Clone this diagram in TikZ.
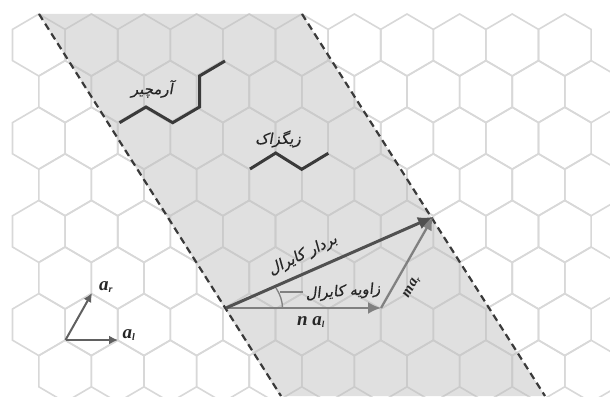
\documentclass[tikz,border=0pt]{standalone}
\usepackage{fontspec}
\usetikzlibrary{arrows.meta}
\setmainfont{Liberation Serif}
\TeXXeTstate=1
\newfontfamily\fa[Script=Arabic,FakeSlant=0.18,FakeBold=0.4]{DejaVu Sans}
\definecolor{hexline}{HTML}{D8D8D8}
\definecolor{bandfill}{HTML}{E0E0E0}
\definecolor{bandline}{HTML}{CBCBCB}
\definecolor{darkline}{HTML}{3A3A3A}
\definecolor{chiral}{HTML}{505050}
\definecolor{component}{HTML}{808080}
\tikzset{
  hexcell/.style={line width=1.6pt,line join=miter},
  bandedge/.style={draw=darkline,line width=2.2pt,dash pattern=on 7pt off 4.5pt},
  tube/.style={draw=darkline,line width=3pt,line join=miter},
  chiralvec/.style={draw=chiral,line width=3pt,-{Latex[length=15pt,width=13pt]}},
  compvec/.style={draw=component,line width=2.3pt,-{Latex[length=13pt,width=12pt]}},
  basisvec/.style={draw=component!75!black,line width=2pt,-{Latex[length=9pt,width=9pt]}},
  thinmark/.style={draw=component,line width=1.3pt},
  fatext/.style={font=\fa\fontsize{15}{16}\selectfont,text=black!85,inner sep=0pt},
  veclabel/.style={font=\bfseries\itshape\fontsize{19}{20}\selectfont,text=black!85,inner sep=0pt}
}
\newcommand{\hexat}[3]{%
  \draw[hexcell,#3] (#1,#2-31) -- (#1+26.3,#2-15.6) -- (#1+26.3,#2+15.6) -- (#1,#2+31) -- (#1-26.3,#2+15.6) -- (#1-26.3,#2-15.6) -- cycle;}
\begin{document}
\begin{tikzpicture}[x=1pt,y=-1pt]
\useasboundingbox (0,0) rectangle (610,396);
\fill[white] (0,0) rectangle (610,396);
\begin{scope}
\clip (0,0) rectangle (610,396);
% white-side grid
\foreach \r in {0,2,4,6}{\foreach \k in {0,...,10}{\hexat{38.8+52.6*\k}{45+46.6*\r}{draw=hexline}}}
\foreach \r in {1,3,5,7}{\foreach \k in {0,...,10}{\hexat{65.1+52.6*\k}{45+46.6*\r}{draw=hexline}}}
% shaded band with its own grid
\begin{scope}
\clip (39,14) -- (302,14) -- (545,396) -- (280,396) -- cycle;
\fill[bandfill] (39,14) -- (302,14) -- (545,396) -- (280,396) -- cycle;
\foreach \r in {0,2,4,6}{\foreach \k in {0,...,10}{\hexat{38.8+52.6*\k}{45+46.6*\r}{draw=bandline}}}
\foreach \r in {1,3,5,7}{\foreach \k in {0,...,10}{\hexat{65.1+52.6*\k}{45+46.6*\r}{draw=bandline}}}
\end{scope}
\end{scope}
% named points
\coordinate (leftTop) at (39,14);
\coordinate (leftBot) at (281,396);
\coordinate (rightTop) at (302,14);
\coordinate (rightBot) at (545,396);
\coordinate (O) at (226,308);
\coordinate (A) at (381,308);
\coordinate (C) at (433,217);
\coordinate (B0) at (65.5,340);
\coordinate (B1) at (118,340);
\coordinate (B2) at (92,293);
\coordinate (arcA) at (282.5,308);
\coordinate (arcB) at (276,288);
\coordinate (leadA) at (280,292);
\coordinate (leadB) at (303,292);
% band edges
\draw[bandedge] (leftTop) -- (leftBot);
\draw[bandedge] (rightTop) -- (rightBot);
% armchair and zigzag
\draw[tube] (119.5,122.7) -- (146,107) -- (172.7,122.7) -- (199.5,107) -- (199.5,76) -- (225,61);
\draw[tube] (250,169) -- (275.7,153) -- (301.7,169.3) -- (328.3,153.3);
% vectors
\draw[compvec] (O) -- (A);
\draw[compvec] (A) -- (C);
\draw[chiralvec] (O) -- (C);
\draw[thinmark] (arcA) .. controls (282.5,301) and (280,294) .. (arcB);
\draw[thinmark] (leadA) -- (leadB);
\draw[basisvec] (B0) -- (B1);
\draw[basisvec] (B0) -- (B2);
% labels
\node[fatext] (armchair) at (152,89) {\beginR آرمچیر\endR};
\node[fatext] (zigzag) at (278,139) {\beginR زیگزاک\endR};
\node[fatext,rotate=26] (chvec) at (303,255) {\beginR بردار کایرال\endR};
\node[fatext,rotate=4] (chang) at (343,292) {\beginR زاویه کایرال\endR};
\node[veclabel] (na) at (311,322) {n a\textsubscript{\fontsize{9}{9}\selectfont l}};
\node[veclabel,rotate=60,font=\bfseries\itshape\fontsize{15}{16}\selectfont] (ma) at (412,287) {ma\textsubscript{\fontsize{8}{8}\selectfont r}};
\node[veclabel] (ar) at (106,287) {a\textsubscript{\fontsize{10}{10}\selectfont r}};
\node[veclabel] (al) at (129,335) {a\textsubscript{\fontsize{10}{10}\selectfont l}};
\end{tikzpicture}
\end{document}
